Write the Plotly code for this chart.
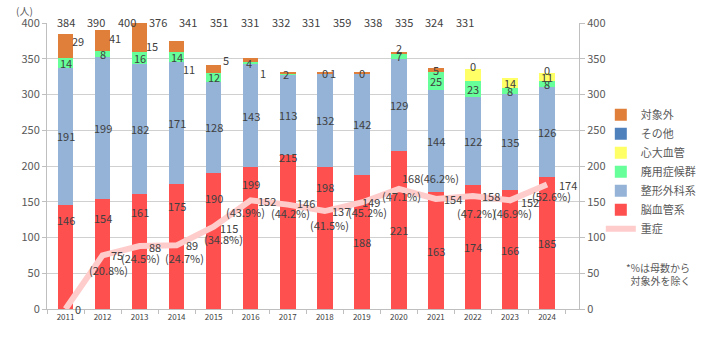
import plotly.graph_objects as go

years = ["2011", "2012", "2013", "2014", "2015", "2016", "2017",
         "2018", "2019", "2020", "2021", "2022", "2023", "2024"]
cerebro = [146, 154, 161, 175, 190, 199, 215, 198, 188, 221, 163, 174, 166, 185]
ortho = [191, 199, 182, 171, 128, 143, 113, 132, 142, 129, 144, 122, 135, 126]
disuse = [14, 8, 16, 14, 12, 4, 2, 0, 0, 7, 25, 23, 8, 8]
cardiac = [0, 0, 0, 0, 0, 0, 0, 0, 0, 0, 0, 16, 14, 11]
other = [0, 0, 0, 0, 0, 0, 0, 0, 0, 0, 0, 0, 0, 0]
excluded = [33, 29, 41, 15, 11, 5, 1, 1, 1, 2, 5, 0, 0, 0]
totals = [384, 390, 400, 376, 341, 351, 331, 332, 331, 359, 338, 335, 324, 331]
severe = [0, 75, 88, 89, 115, 152, 146, 137, 149, 168, 154, 158, 152, 174]
severe_pct = ["", "(20.8%)", "(24.5%)", "(24.7%)", "(34.8%)", "(43.9%)", "(44.2%)",
              "(41.5%)", "(45.2%)", "(47.1%)", "(46.2%)", "(47.2%)", "(46.9%)", "(52.6%)"]

# --- styles (label placement in pixels) ---
red_dy = [-15, -19, -18, -22, -25, -17, -2, -20, None, None, None, None, None, None]
orange_show = [None, -25, -25, -25, -25, -25, -25, 8, None, 0, 0, None, None, None]
orange_dy = [0, 0, 0, 0, 0, 0, 0, 0, 0, 5, 0, 0, 0, 0]
yellow_show = [False] * 12 + [True, True]
other_show = [False] * 11 + [True, False, True]
val_dx = [12, 14, 15, 15, 15, 16, 18, 16, 9, 12, 17, 18, 20, 21]
val_dy = [0, 0, -1, 0, -1, -1, 2, 0, 0, 11, 0, 0, -2, 0]
pct_dx = [0, 6, 1, 8, 10, -5, 3, 5, 6, 3, 4, 4, 3, 4]
pct_dy = [0, -15, -12, -13, -12, -12, -8, -14, -10, -7, 21, -17, -13, -11]

C_RED = "#FF5050"
C_BLUE = "#95B3D7"
C_GREEN = "#66FF99"
C_YELLOW = "#FFFF66"
C_OTHER = "#4F81BD"
C_ORANGE = "#E07F3A"
C_LINE = "#FFCCCC"
TXT = "#404040"
AX = "#595959"
FONT = "Noto Sans CJK JP"

fig = go.Figure()
bw = 0.42
series = [
    ("脳血管系", cerebro, C_RED, 6),
    ("整形外科系", ortho, C_BLUE, 5),
    ("廃用症候群", disuse, C_GREEN, 4),
    ("心大血管", cardiac, C_YELLOW, 3),
    ("その他", other, C_OTHER, 2),
    ("対象外", excluded, C_ORANGE, 1),
]
for name, vals, col, rank in series:
    fig.add_trace(go.Bar(x=years, y=vals, name=name, marker=dict(color=col, line=dict(width=0)),
                         width=bw, legendrank=rank))

fig.add_trace(go.Scatter(x=years, y=severe, name="重症", mode="lines",
                         line=dict(color=C_LINE, width=6), yaxis="y2", legendrank=7))

ann = []


def lab(i, y, text, dx=0, dy=0, size=11):
    ann.append(dict(x=i, y=y, xref="x", yref="y", text=text, showarrow=False,
                    xshift=dx, yshift=dy, font=dict(family=FONT, size=size, color=TXT)))


for i in range(len(years)):
    r, b, g, yv, o, e = cerebro[i], ortho[i], disuse[i], cardiac[i], other[i], excluded[i]
    if red_dy[i] is None:
        lab(i, r / 2, str(r))
    else:
        lab(i, r, str(r), 0, red_dy[i])
    lab(i, r + b / 2, str(b))
    lab(i, r + b + g / 2, str(g), -2 if 0 < g < 6 else 0)
    base = r + b + g
    if yellow_show[i]:
        lab(i, base + yv / 2, str(yv))
    base += yv
    if other_show[i]:
        lab(i, base + o, str(o), 0, 3)
    base += o
    if orange_show[i] is not None:
        lab(i, base + e / 2, str(e), orange_show[i], orange_dy[i])
    ann.append(dict(x=i * 0.83, y=400, xref="x", yref="y", text=str(totals[i]), showarrow=False,
                    yshift=1, font=dict(family=FONT, size=11, color=TXT)))
    lab(i, severe[i], str(severe[i]), val_dx[i], val_dy[i])
    if severe_pct[i]:
        lab(i, severe[i], severe_pct[i], pct_dx[i], pct_dy[i])

ann.append(dict(x=-0.043, y=1.045, xref="paper", yref="paper", text="(人)", showarrow=False,
                xanchor="center", yanchor="middle",
                font=dict(family=FONT, size=10, color=AX)))
ann.append(dict(x=1.148, y=0.122, xref="paper", yref="paper", text="*%は母数から<br>  対象外を除く",
                xanchor="center", yanchor="middle",
                showarrow=False, align="left", font=dict(family=FONT, size=10, color=AX)))

fig.update_layout(
    width=720, height=350,
    margin=dict(l=47, r=141, t=23, b=41),
    paper_bgcolor="white", plot_bgcolor="white",
    barmode="stack",
    annotations=ann,
    font=dict(family=FONT, color=AX),
    legend=dict(x=1.041, y=0.73, xanchor="left", yanchor="top", traceorder="normal",
                font=dict(family=FONT, size=11, color=AX), tracegroupgap=0,
                itemwidth=30, bgcolor="rgba(0,0,0,0)"),
    xaxis=dict(type="category", tickson="boundaries", ticks="outside", ticklen=4,
               tickcolor="#BFBFBF", showline=True, linecolor="#BFBFBF",
               tickfont=dict(family=FONT, size=8, color=TXT), showgrid=False),
    yaxis=dict(range=[0, 400], dtick=50, showgrid=True, gridcolor="#D0D0D0",
               showline=True, linecolor="#BFBFBF", ticks="outside", ticklen=4,
               tickcolor="#BFBFBF", tickfont=dict(family=FONT, size=11, color=AX), zeroline=False),
    yaxis2=dict(range=[0, 400], dtick=50, overlaying="y", side="right", showgrid=False,
                showline=True, linecolor="#BFBFBF", ticks="outside", ticklen=5,
                tickcolor="#BFBFBF", tickfont=dict(family=FONT, size=11, color=AX), zeroline=False),
)

fig.write_html("out.html")
